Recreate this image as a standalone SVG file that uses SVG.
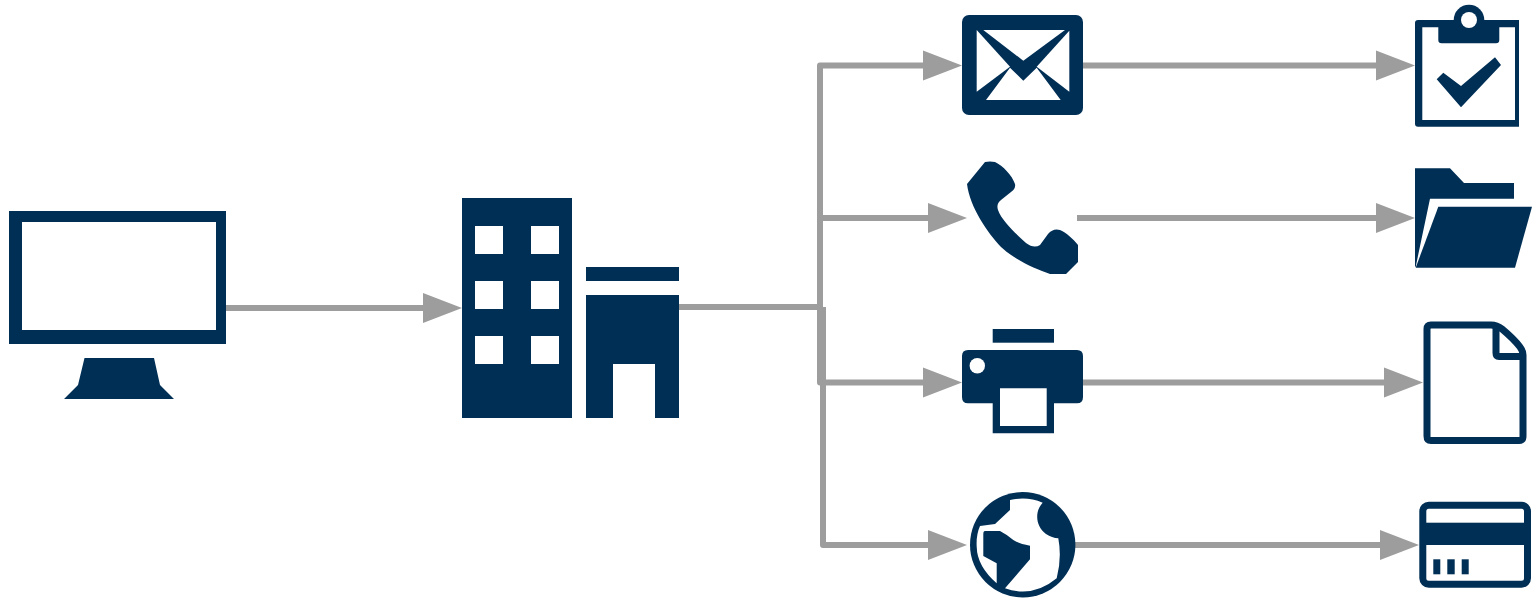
<svg xmlns="http://www.w3.org/2000/svg" width="1532" height="598" viewBox="0 0 1532 598">
<style>
.n{fill:#002f56;fill-rule:evenodd}
.w{fill:#fff}
.o{fill:none;stroke:#002f56;stroke-width:7;stroke-linejoin:round}
.c{fill:none;stroke:#9d9d9d;stroke-width:6;stroke-linejoin:round}
.a{marker-end:url(#arrow)}
</style>
<defs>
<marker id="arrow" markerUnits="userSpaceOnUse" markerWidth="39" markerHeight="30" refX="2" refY="15" orient="auto" overflow="visible"><path d="M0,0 L39,15 L0,30 Z" fill="#9d9d9d"/></marker>
</defs>
<rect width="1532" height="598" fill="#fff"/>
<g id="connectors">
<path class="c a" d="M226,308 H425"/>
<path class="c" d="M679,307 H820"/>
<path class="c a" d="M820,307 V65.500 H925"/>
<path class="c a" d="M820,218 H930"/>
<path class="c a" d="M820,307 V382.500 H925"/>
<path class="c a" d="M823,307 V545 H930"/>
<path class="c a" d="M1083,65.500 H1378"/>
<path class="c a" d="M1077,218 H1378"/>
<path class="c a" d="M1083,382.500 H1386"/>
<path class="c a" d="M1075,545 H1382"/>
</g>
<g id="monitor">
<path class="n" d="M9,211 H226 V344 H9 Z M22,222 V330 H216 V222 Z"/>
<path class="n" d="M84.500,358 H154 L160,385 L174,399 H64 L78,385 Z"/>
</g>
<g id="building">
<path class="n" d="M462,198 H572 V418 H462 Z M475,226 V254 H503 V226 Z M531,226 V254 H559 V226 Z M475,281 V309 H503 V281 Z M531,281 V309 H559 V281 Z M475,336 V364 H503 V336 Z M531,336 V364 H559 V336 Z"/>
<path class="n" d="M586,267 H679 V281 H586 Z"/>
<path class="n" d="M586,295 H679 V418 H655 V364 H613 V418 H586 Z"/>
</g>
<g id="email">
<rect class="n" x="962" y="15" width="121" height="100" rx="7"/>
<path class="w" d="M976.700,30 L976.700,91.700 L1010,66.700 Z"/>
<path class="w" d="M983.300,30 H1065 L1023.300,60.700 Z"/>
<path class="w" d="M1069.300,30.700 V91.700 L1036.700,66.700 Z"/>
<path class="w" d="M986,100 H1060.700 L1036.700,67.700 L1023.300,80.700 L1010,67.700 Z"/>
</g>
<g id="phone">
<path class="n" d="M985,162 Q990,161 995,162 C1003,166 1012,175 1015,184 Q1016,189 1011,192 L1001,200 Q996,204 998,210 C1002,221 1015,233 1026,243 Q1034,249 1040,245 L1048,234 Q1053,228 1060,230 C1067,233 1073,239 1078,245 V262 L1066,274 H1050 C1035,269 1015,260 1001,247 C988,233 970,208 967,184 Z"/>
</g>
<g id="printer">
<rect class="n" x="992.700" y="329" width="61.300" height="13.700"/>
<path class="n" d="M968,350 H1077 Q1083,350 1083,356 V397 Q1083,403.300 1077,403.300 H1054 V433.300 H992.700 V403.300 H968 Q962,403.300 962,397 V356 Q962,350 968,350 Z M1000,388.300 V426 H1046.700 V388.300 Z"/>
<circle class="w" cx="977.300" cy="365.700" r="7.700"/>
</g>
<g id="globe">
<circle class="n" cx="1022.700" cy="544.700" r="52.700"/>
<path class="w" d="M1010,500 Q1027,496 1042.700,502.700 C1034,512 1036,527 1046,534 Q1052,538 1058.300,538.300 Q1062,558 1056.700,578.300 Q1033,598 1005,588.300 L1030,559.300 V545.700 Q1019,544 1013.300,540 Q1006,534 1000,531 H985 Q983.300,531 983.300,534 V556 L996.700,563.300 V583.300 Q977,566 976.700,546.700 Q976,535 980,526 L995,524 L1010,510 Z"/>
</g>
<g id="clipboard">
<path class="n" d="M1418,20 H1519 V126.700 H1418 Q1415,126.700 1415,123.700 V23 Q1415,20 1418,20 Z M1422.300,27.300 V120 H1515 V27.300 Z"/>
<path class="n" d="M1438.300,22 H1499.300 V40 Q1499.300,43.300 1496,43.300 H1441.600 Q1438.300,43.300 1438.300,40 Z"/>
<circle class="n" cx="1469" cy="20" r="15.300"/>
<circle class="w" cx="1469" cy="20" r="8"/>
<path class="n" d="M1436.700,79.300 L1443.300,72.700 L1461,86 L1495,57.300 L1501,65 L1461,107.300 Z"/>
</g>
<g id="folder">
<path class="n" d="M1415,168.300 H1450 L1464,183 H1514 V198.700 H1430 L1415.700,266.700 H1415 Z"/>
<path class="n" d="M1438.300,206.700 H1532 L1515,267.700 H1415.700 Z"/>
</g>
<g id="document">
<path class="o" d="M1431,325 H1491 Q1497,325 1502,329 Q1514,339 1520,347 Q1523,351 1523,355 V436 Q1523,440.500 1519,440.500 H1431 Q1427,440.500 1427,436 V329 Q1427,325 1431,325 Z"/>
<path class="o" d="M1496,326 V353 Q1496,356.500 1499,356.500 H1523"/>
</g>
<g id="card">
<rect class="o" x="1422.800" y="505.200" width="104.700" height="79" rx="6"/>
<rect class="n" x="1422" y="522.700" width="106" height="22.300"/>
<rect class="n" x="1433.300" y="559.300" width="7" height="15"/>
<rect class="n" x="1447.300" y="559.300" width="7.400" height="15"/>
<rect class="n" x="1461.700" y="559.300" width="7" height="15"/>
</g>
</svg>
